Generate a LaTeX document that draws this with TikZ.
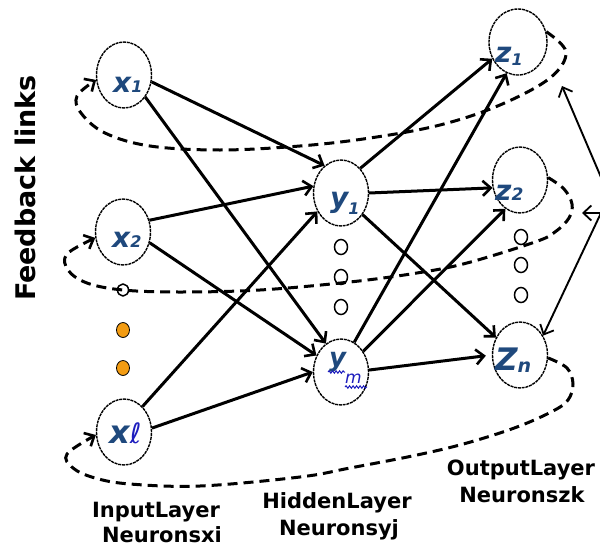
\documentclass[tikz,border=0pt]{standalone}
\usepackage{fontspec}
\usetikzlibrary{arrows.meta,shapes.geometric,decorations.pathmorphing}
\newfontfamily\dvs{DejaVu Sans}
\definecolor{lblue}{RGB}{31,73,125}
\definecolor{sblue}{RGB}{30,30,190}
\definecolor{dotor}{RGB}{243,156,18}
\begin{document}
\begin{tikzpicture}[x=1pt,y=-1pt,
 neuron/.style={ellipse, draw, line width=1.4pt, dash pattern=on 3pt off 0.8pt, minimum width=55pt, minimum height=66pt, inner sep=0pt, fill=white},
 lbl/.style={anchor=base west, inner sep=0pt, text=lblue, font=\dvs\bfseries\itshape},
 conn/.style={line width=3pt, -{Straight Barb[length=8pt,width=15pt,line width=2.6pt]}},
 fb/.style={line width=3pt, dash pattern=on 10pt off 6pt, -{Straight Barb[length=8pt,width=15pt,line width=2.6pt]}},
 thinarr/.style={line width=1.9pt, -{Straight Barb[length=8pt,width=15pt,line width=1.8pt]}},
 odot/.style={ellipse, draw, line width=1.5pt, minimum width=13pt, minimum height=15pt, inner sep=0pt},
 ordot/.style={ellipse, draw, line width=0.8pt, fill=dotor, minimum width=13pt, minimum height=15pt, inner sep=0pt},
 laytxt/.style={anchor=base, inner sep=0pt, font=\dvs\bfseries\fontsize{21}{21}\selectfont},
 squig/.style={sblue, line width=1pt, decorate, decoration={snake, amplitude=1.2pt, segment length=3.5pt}}
]
\useasboundingbox (0,0) rectangle (600,546);
\clip (0,0) rectangle (600,546);

% neurons
\node[neuron] (x1) at (124,75) {};
\node[neuron] (x2) at (123,232) {};
\node[neuron] (xl) at (124,432) {};
\node[neuron] (y1) at (341,193) {};
\node[neuron] (ym) at (341,372) {};
\node[neuron, minimum width=58pt] (z1) at (518,42) {};
\node[neuron] (z2) at (520,180) {};
\node[neuron] (zn) at (520,355) {};

% small dots
\node[odot] (d1) at (341,247) {};
\node[odot] (d2) at (341,277) {};
\node[odot] (d3) at (341,307) {};
\node[odot] (e1) at (521,237) {};
\node[odot] (e2) at (521,265) {};
\node[odot] (e3) at (521,295) {};
\node[odot, minimum width=11pt, minimum height=12pt] (f0) at (123,290) {};
\node[ordot] (f1) at (123,330) {};
\node[ordot] (f2) at (123,368) {};

% feedback loops
\draw[fb] plot[smooth, tension=0.6] coordinates {(z1.20) (566,52) (550,78) (500,105) (440,125) (370,138) (300,146) (220,150) (150,146) (105,133) (81,113) (77,96) (x1.190)};
\draw[fb] plot[smooth, tension=0.6] coordinates {(z2.5) (564,189) (572,204) (569,218) (555,232) (535,242) (467,263) (417,273) (350,282) (260,290) (180,292) (123,290) (87,283) (68,270) (67,254) (x2.192)};
\draw[fb] plot[smooth, tension=0.6] coordinates {(zn.-6) (567,368) (573,384) (568,400) (553,411) (517,427) (467,443) (417,455) (350,468) (300,477) (200,486) (130,484) (95,478) (73,468) (67,454) (xl.186)};

% forward connections
\draw[conn] (x1.-14) -- (y1.121);
\draw[conn] (x1.-46) -- (ym.118);
\draw[conn] (x2.24) -- (y1.166);
\draw[conn] (x2.-22) -- (ym.146);
\draw[conn] (xl.54) -- (y1.218);
\draw[conn] (xl.8) -- (ym.180);
\draw[conn] (y1.52) -- (z1.213);
\draw[conn] (y1.0) -- (z2.196);
\draw[conn] (y1.-45) -- (zn.144);
\draw[conn] (ym.66) -- (z1.250);
\draw[conn] (ym.43) -- (z2.243);
\draw[conn, shorten >=6pt] (ym.4) -- (zn.180);

% right-side thin arrows
\coordinate (src) at (609,196);
\coordinate (src2) at (606,213);
\coordinate (fbA) at (562,86);
\coordinate (fbB) at (582,213);
\draw[thinarr] (src) -- (fbA);
\draw[thinarr] (src) -- (zn.40);
\draw[thinarr] (src2) -- (fbB);

% neuron labels
\node[lbl] (lx1) at (113,92) {\fontsize{28}{28}\selectfont x\fontsize{16}{16}\selectfont 1};
\node[lbl] (lx2) at (112,247) {\fontsize{28}{28}\selectfont x\fontsize{16}{16}\selectfont 2};
\node[lbl] (lxl) at (109,443) {\fontsize{32}{32}\selectfont x{\color{sblue}\mdseries\fontsize{28}{28}\selectfont ℓ}};
\node[lbl] (ly1) at (330,207) {\fontsize{28}{28}\selectfont y\raisebox{-7pt}{\fontsize{16}{16}\selectfont 1}};
\node[lbl] (lym) at (329,366) {\fontsize{26}{26}\selectfont y};
\node[anchor=base west, inner sep=0pt, text=sblue, font=\dvs\itshape\fontsize{17}{17}\selectfont] (lm) at (345,383) {m};
\draw[squig] (328,372) -- (345,372);
\draw[squig] (345,387) -- (367,387);
\node[lbl] (lz1) at (495,62) {\fontsize{28}{28}\selectfont z\raisebox{-3pt}{\fontsize{16}{16}\selectfont 1}};
\node[lbl] (lz2) at (495,200) {\fontsize{28}{28}\selectfont z\fontsize{17}{17}\selectfont 2};
\node[lbl] (lzn) at (495,370) {\fontsize{31}{31}\selectfont Z\raisebox{-2pt}{\fontsize{19}{19}\selectfont n}};

% layer captions
\node[laytxt] (in1) at (156,517) {InputLayer};
\node[laytxt] (in2) at (162,542) {Neuronsxi};
\node[laytxt] (hid1) at (337,508) {HiddenLayer};
\node[laytxt] (hid2) at (339,535) {Neuronsyj};
\node[laytxt] (out1) at (521,475) {OutputLayer};
\node[laytxt] (out2) at (522,502) {Neuronszk};
\node[anchor=base, inner sep=0pt, rotate=90, font=\dvs\bfseries\fontsize{27}{27}\selectfont] (fbl) at (35,188) {Feedback links};
\end{tikzpicture}
\end{document}
